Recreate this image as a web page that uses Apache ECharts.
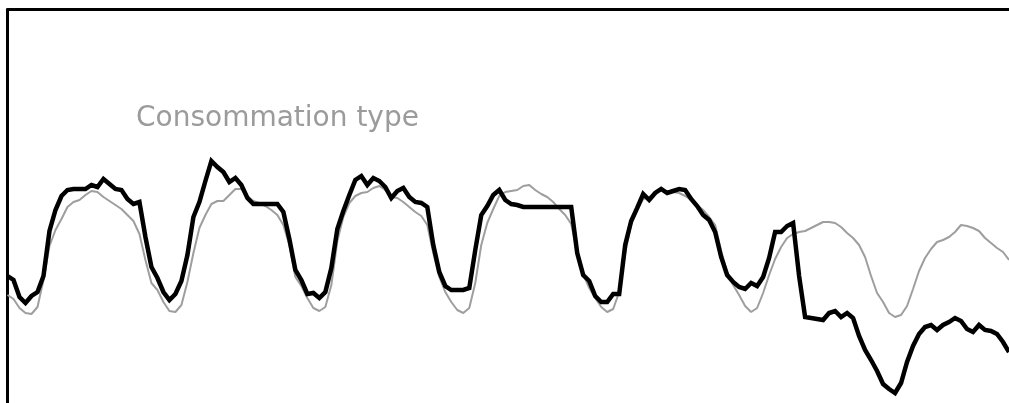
<!DOCTYPE html>
<html>
<head>
<meta charset="utf-8">
<script src="https://cdn.jsdelivr.net/npm/echarts@6/dist/echarts.min.js"></script>
<style>
html,body{margin:0;padding:0;background:#fff;}
#chart{width:1009px;height:403px;}
</style>
</head>
<body>
<div id="chart"></div>
<script>
// Hourly consumption over one week (7 days x 24 hours)
const days = ["lun.", "mar.", "mer.", "jeu.", "ven.", "sam.", "dim."];
const hours = ["00h","01h","02h","03h","04h","05h","06h","07h","08h","09h","10h","11h","12h","13h","14h","15h","16h","17h","18h","19h","20h","21h","22h","23h"];

// Actual consumption (black)
const consommationReelle = [
  13.3,12.9,11.2,10.6,11.3,11.7,13.3,17.8,19.9,21.3,21.9,22.0,22.0,22.0,22.4,22.2,23.0,22.5,22.0,21.9,21.0,20.5,20.7,17.2,
  14.2,13.1,11.7,10.9,11.5,12.8,15.4,19.2,20.7,22.8,24.8,24.2,23.7,22.7,23.1,22.4,21.1,20.5,20.5,20.5,20.5,20.5,19.7,17.0,
  13.9,12.9,11.5,11.6,11.1,11.7,14.1,18.0,19.8,21.4,22.9,23.3,22.4,23.1,22.8,22.2,21.1,21.8,22.1,21.2,20.7,20.6,20.2,16.4,
  13.7,12.3,11.9,11.9,11.9,12.1,15.9,19.4,20.3,21.4,21.9,20.9,20.5,20.4,20.2,20.2,20.2,20.2,20.2,20.2,20.2,20.2,20.2,15.6,
  13.4,12.8,11.3,10.7,10.7,11.5,11.5,16.4,18.8,20.1,21.5,20.9,21.6,22.0,21.6,21.8,22.0,21.9,21.0,20.3,19.4,18.9,17.7,15.2,
  13.4,12.7,12.2,12.0,12.6,12.3,13.2,15.1,17.7,17.7,18.3,18.6,13.3,9.2,9.1,9.0,8.9,9.6,9.8,9.2,9.6,9.1,7.3,5.9,
  4.9,3.8,2.5,2.0,1.6,2.6,4.7,6.3,7.5,8.2,8.4,7.9,8.4,8.7,9.1,8.8,8.0,7.7,8.4,7.9,7.8,7.5,6.7,5.7
];

// Typical consumption (grey)
const consommationType = [
  11.4,11.0,10.1,9.6,9.5,10.2,12.9,16.3,17.9,19.0,20.2,20.7,20.9,21.4,21.8,21.7,21.2,20.8,20.4,20.0,19.4,18.8,17.5,14.9,
  12.6,11.9,10.7,9.8,9.7,10.4,12.7,15.6,18.1,19.4,20.5,20.8,20.8,21.4,22.0,22.0,21.3,20.8,20.6,20.3,19.9,19.4,18.4,16.4,
  13.2,12.3,11.1,10.1,9.8,10.2,12.4,16.8,19.2,20.6,21.3,21.6,21.7,22.1,22.3,21.9,21.2,21.1,20.7,20.2,19.7,19.3,18.4,15.6,
  13.2,11.7,10.7,9.9,9.6,10.1,12.6,16.4,18.6,20.0,21.3,21.7,21.8,21.9,22.3,22.4,21.9,21.5,21.2,20.7,20.0,19.4,18.5,15.7,
  13.5,12.1,11.1,10.2,9.7,10.0,11.7,15.6,18.5,19.9,21.0,21.2,21.6,21.9,21.8,21.7,21.6,21.3,20.9,20.4,19.9,19.2,18.4,15.8,
  13.7,12.4,11.4,10.3,9.7,10.1,11.6,13.4,15.0,16.2,17.1,17.5,17.7,17.8,18.1,18.4,18.7,18.7,18.6,18.2,17.6,17.1,16.4,15.2,
  13.3,11.6,10.7,9.6,9.2,9.4,10.3,12.0,13.8,15.1,16.0,16.7,16.9,17.2,17.7,18.4,18.3,18.1,17.8,17.1,16.6,16.1,15.7,14.9
];

const titleText = "Consommation type";

const categories = [];
days.forEach(d => hours.forEach(h => categories.push(d + " " + h)));

const chart = echarts.init(document.getElementById('chart'), null, {renderer: 'canvas'});
const step = 6.01;
chart.setOption({
  animation: false,
  backgroundColor: '#ffffff',
  title: {
    text: titleText,
    left: 131,
    top: 100,
    textStyle: {
      fontFamily: 'DejaVu Sans',
      fontSize: 28,
      fontWeight: 'normal',
      color: '#9b9b9b'
    }
  },
  grid: {
    left: 7.5,
    top: 9.5,
    width: step * (categories.length - 1),
    bottom: 0,
    containLabel: false
  },
  xAxis: {
    type: 'category',
    position: 'top',
    data: categories,
    boundaryGap: false,
    axisLine: {show: true, onZero: false, lineStyle: {color: '#000', width: 3}},
    axisTick: {show: false},
    axisLabel: {show: false},
    splitLine: {show: false}
  },
  yAxis: {
    type: 'value',
    min: 0.6,
    max: 39.95,
    axisLine: {show: true, onZero: false, lineStyle: {color: '#000', width: 3}},
    axisTick: {show: false},
    axisLabel: {show: false},
    splitLine: {show: false}
  },
  series: [
    {
      name: 'Consommation type',
      type: 'line',
      data: consommationType,
      symbol: 'none',
      lineStyle: {color: '#9e9e9e', width: 2},
      z: 2
    },
    {
      name: 'Consommation',
      type: 'line',
      data: consommationReelle,
      symbol: 'none',
      lineStyle: {color: '#000000', width: 4.5, join: 'miter'},
      z: 3
    }
  ]
});
</script>
</body>
</html>
